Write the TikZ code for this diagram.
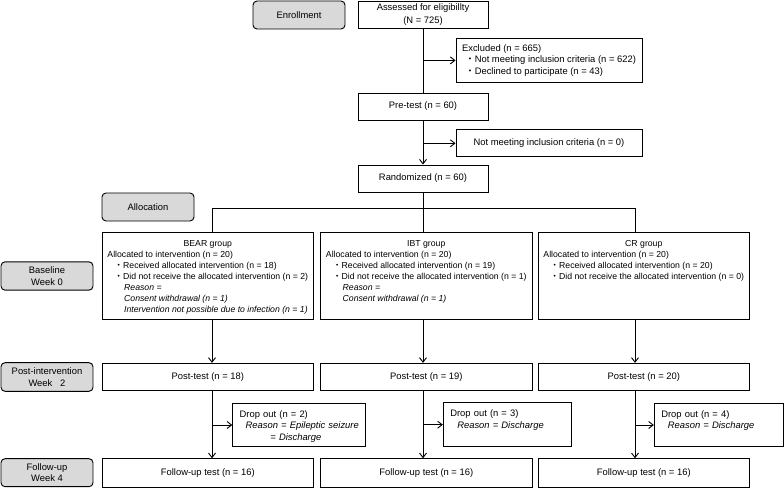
\documentclass[tikz,border=0pt]{standalone}
\usepackage{fontspec}
\setmainfont{Liberation Sans}
\newfontfamily\jpfont{Noto Sans CJK JP}
\usetikzlibrary{arrows.meta}
\newcommand{\jbul}{{\jpfont ・}}
\tikzset{
  every node/.style={font=\fontsize{9.4}{11.5}\selectfont},
  stagebox/.style={draw, line width=0.032cm, rounded corners=4pt, fill=black!15,
    minimum width=92pt, minimum height=28pt, align=center, inner sep=1pt},
  flowbox/.style={draw, line width=0.032cm, minimum height=27pt, align=center, inner sep=2pt},
  groupbox/.style={draw, line width=0.032cm, minimum width=211pt, text height=10.8pt,
    text depth=70.2pt, inner ysep=3pt, inner xsep=1pt, font=\fontsize{8.7}{11}\selectfont},
  dropbox/.style={draw, line width=0.032cm, text height=11pt, text depth=26.5pt,
    inner ysep=3pt, inner xsep=7pt, align=left},
  flowline/.style={line width=0.032cm},
  flowarrow/.style={line width=0.032cm, -{Straight Barb[length=4.5pt,width=7pt]}}
}
\begin{document}
\begin{tikzpicture}[x=1pt,y=-1pt]
                    \useasboundingbox (0,0) rectangle (784,489);

                    % Stage labels on the left
                    \node (enroll) [stagebox] at (299,15) {Enrollment};%
                    \node (alloc) [stagebox] at (148,207) {Allocation};%
                    \node (baseline) [stagebox, minimum height=28.3pt] at (47,276) {Baseline\\Week 0};%
                    \node (postint) [stagebox, minimum height=28.6pt] at (47,377) {Post-intervention\\Week~~~2};%
                    \node (follow) [stagebox] at (47,472.7) {Follow-up\\Week 4};%

                    % Main column: assessment, pre-test, randomization
                    \node (assess) [flowbox, minimum width=130pt] at (423,14.5) {Assessed for eligibillty\\[1.5pt](N = 725)};%
                    \node (excl) [flowbox, minimum width=186pt, minimum height=44.7pt, align=left] at (549,60.4)
                      {Excluded (n = 665)\\
                       \hspace*{3.3pt}\jbul Not meeting inclusion criteria (n = 622)\\
                       \hspace*{3.3pt}\jbul Declined to participate (n = 43)};%
                    \node (pretest) [flowbox, minimum width=130pt] at (423,106.5) {Pre-test (n = 60)};%
                    \node (notmeet) [flowbox, minimum width=186pt, minimum height=26.7pt] at (549,143.3) {Not meeting inclusion criteria (n = 0)};%
                    \node (random) [flowbox, minimum width=130pt] at (423,178.5) {Randomized (n = 60)};%

                    % Drawing main column connectors
                    \draw [flowline] (assess) -- (pretest);%
                    \draw [flowarrow] (assess.south |- excl.west) -- (excl.west);%
                    \draw [flowarrow] (pretest) -- (random);%
                    \draw [flowarrow] (pretest.south |- notmeet.west) -- (notmeet.west);%

                    % Group boxes
                    \node (bear) [groupbox] at (207.8,275.7)
                      {\begin{tabular}[t]{@{}l@{}}
                       \multicolumn{1}{@{}c@{}}{BEAR group}\\
                       Allocated to intervention (n = 20)\\
                       \hspace*{7pt}\jbul Received allocated intervention (n = 18)\\
                       \hspace*{7pt}\jbul Did not receive the allocated intervention (n = 2)\\
                       \hspace*{16.7pt}\textit{Reason =}\\
                       \hspace*{16.7pt}\textit{Consent withdrawal (n = 1)}\\
                       \hspace*{16.7pt}\textit{Intervention not possible due to infection (n = 1)}
                       \end{tabular}};%
                    \node (ibt) [groupbox, minimum width=212pt] at (426.3,275.7)
                      {\begin{tabular}[t]{@{}l@{}}
                       \multicolumn{1}{@{}c@{}}{IBT group}\\
                       Allocated to intervention (n = 20)\\
                       \hspace*{7pt}\jbul Received allocated intervention (n = 19)\\
                       \hspace*{7pt}\jbul Did not receive the allocated intervention (n = 1)\\
                       \hspace*{16.7pt}\textit{Reason =}\\
                       \hspace*{16.7pt}\textit{Consent withdrawal (n = 1)}
                       \end{tabular}};%
                    \node (cr) [groupbox] at (643.8,275.7)
                      {\begin{tabular}[t]{@{}l@{}}
                       \multicolumn{1}{@{}c@{}}{CR group}\\
                       Allocated to intervention (n = 20)\\
                       \hspace*{7pt}\jbul Received allocated intervention (n = 20)\\
                       \hspace*{7pt}\jbul Did not receive the allocated intervention (n = 0)
                       \end{tabular}};%

                    % Drawing split from randomization to groups
                    \coordinate (split) at (423,208.3);%
                    \coordinate (colA) at (212,208.3);%
                    \coordinate (colC) at (635,208.3);%
                    \draw [flowline] (random) -- (split);%
                    \draw [flowline] (colA) -- (colC);%
                    \draw [flowline] (colA) -- (colA |- bear.north);%
                    \draw [flowline] (split) -- (split |- ibt.north);%
                    \draw [flowline] (colC) -- (colC |- cr.north);%

                    % Post-test boxes
                    \node (postA) [flowbox, minimum width=211pt, minimum height=27.4pt] at (207.8,377) {Post-test (n = 18)};%
                    \node (postB) [flowbox, minimum width=212pt, minimum height=27.4pt] at (426.3,377) {Post-test (n = 19)};%
                    \node (postC) [flowbox, minimum width=211pt, minimum height=27.4pt] at (643.8,377) {Post-test (n = 20)};%

                    % Drop out boxes
                    \node (dropA) [dropbox, text width=118.6pt] at (299,425)
                      {Drop out (n = 2)\\
                       \mbox{\hspace*{6pt}\textit{Reason = Epileptic seizure}}\\
                       \hspace*{30.7pt}\textit{= Discharge}};%
                    \node (dropB) [dropbox, text width=114.4pt] at (507.5,424.7)
                      {Drop out (n = 3)\\
                       \hspace*{7pt}\textit{Reason = Discharge}};%
                    \node (dropC) [dropbox, text width=115pt] at (718.8,425)
                      {Drop out (n = 4)\\
                       \hspace*{6.6pt}\textit{Reason = Discharge}};%

                    % Follow-up boxes
                    \node (fuA) [flowbox, minimum width=211pt, minimum height=28.6pt] at (207.8,473) {Follow-up test (n = 16)};%
                    \node (fuB) [flowbox, minimum width=212pt, minimum height=28.6pt] at (426.3,473) {Follow-up test (n = 16)};%
                    \node (fuC) [flowbox, minimum width=211pt, minimum height=28.6pt] at (643.8,473) {Follow-up test (n = 16)};%

                    % Drawing column A connectors
                    \draw [flowarrow] (colA |- bear.south) -- (colA |- postA.north);%
                    \draw [flowarrow] (colA |- postA.south) -- (colA |- fuA.north);%
                    \draw [flowarrow] (colA |- dropA.west) -- (dropA.west);%

                    % Drawing column B connectors
                    \draw [flowarrow] (split |- ibt.south) -- (split |- postB.north);%
                    \draw [flowarrow] (split |- postB.south) -- (split |- fuB.north);%
                    \draw [flowarrow] (split |- dropB.west) -- (dropB.west);%

                    % Drawing column C connectors
                    \draw [flowarrow] (colC |- cr.south) -- (colC |- postC.north);%
                    \draw [flowarrow] (colC |- postC.south) -- (colC |- fuC.north);%
                    \draw [flowarrow] (colC |- dropC.west) -- (dropC.west);%
\end{tikzpicture}
\end{document}
